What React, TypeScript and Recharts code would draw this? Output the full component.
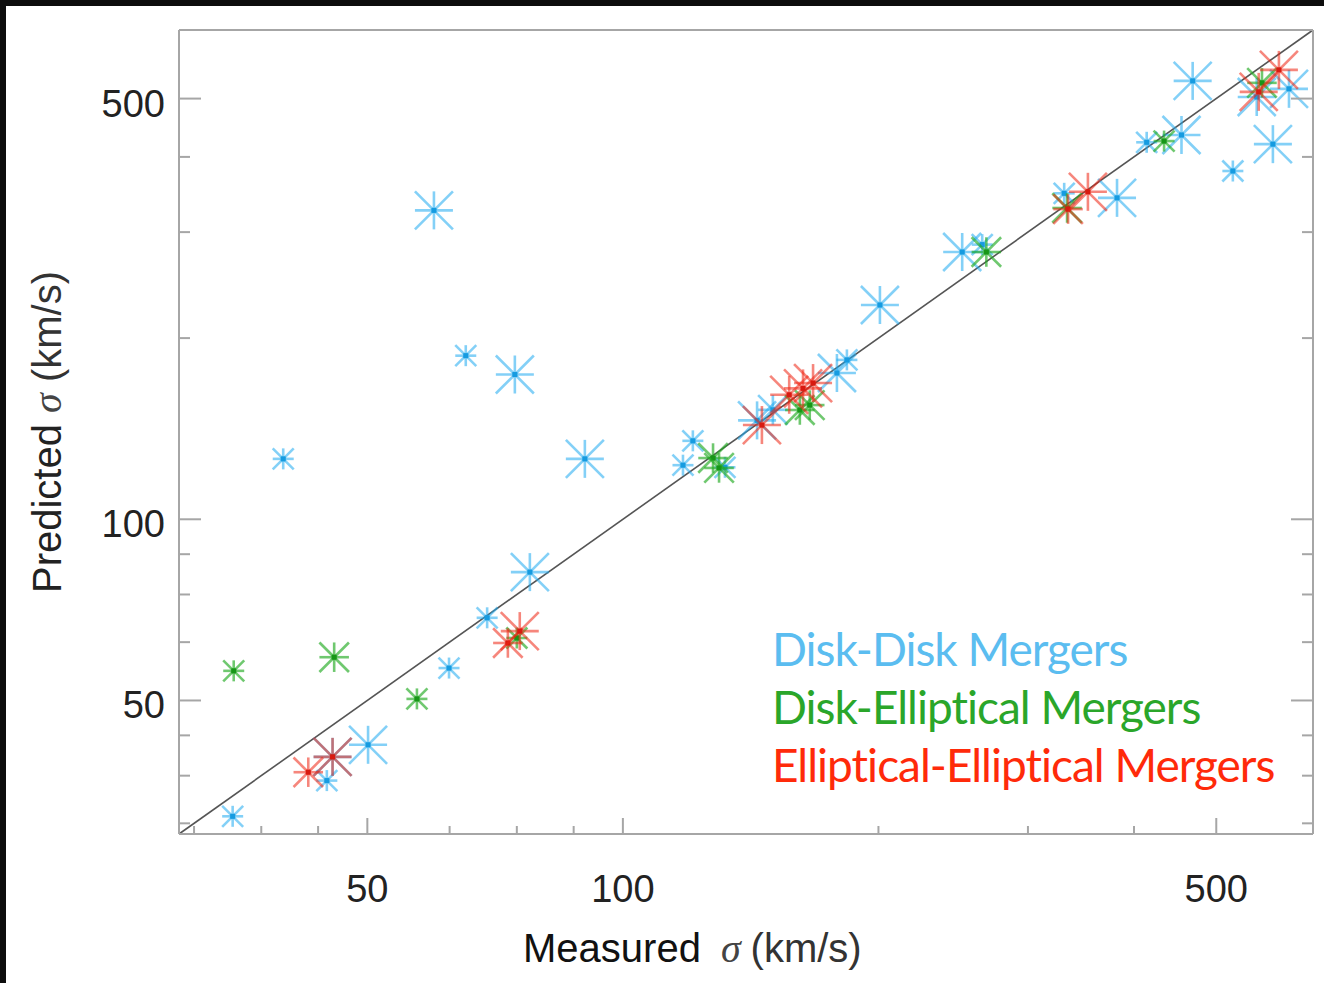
import React from 'react';
import { ScatterChart, Scatter, XAxis, YAxis, ZAxis, ReferenceLine, Legend } from 'recharts';

// ---------- data ----------
const AXIS_DOMAIN: [number, number] = [30, 650];
const majorTicks = [50, 100, 500];
const minorTicks = [31.25, 37.5, 43.75, 62.5, 75, 87.5, 200, 300, 400];
const allTicks = [...minorTicks, ...majorTicks].sort((a, b) => a - b);

// x = measured sigma, y = predicted sigma, z = marker size class (1 small, 2 medium, 3 large)
const diskDisk = [
  { x: 59.9, y: 326, z: 3 }, { x: 65.3, y: 187, z: 1 }, { x: 74.6, y: 174, z: 3 },
  { x: 39.8, y: 126, z: 1 }, { x: 90.2, y: 126, z: 3 }, { x: 77.7, y: 81.7, z: 3 },
  { x: 69.2, y: 68.6, z: 1 }, { x: 62.4, y: 56.6, z: 1 }, { x: 50.1, y: 42.2, z: 3 },
  { x: 44.8, y: 36.8, z: 1 }, { x: 34.7, y: 32.1, z: 1 }, { x: 45.5, y: 40.3, z: 3 },
  { x: 117.7, y: 123, z: 1 }, { x: 120.9, y: 135, z: 1 }, { x: 131.9, y: 122, z: 1 },
  { x: 143.9, y: 146, z: 3 }, { x: 150.2, y: 152, z: 2 }, { x: 178.7, y: 175, z: 3 },
  { x: 183.6, y: 184, z: 1 }, { x: 200.8, y: 227, z: 3 }, { x: 251, y: 278, z: 3 },
  { x: 265, y: 286, z: 1 }, { x: 331, y: 348, z: 1 }, { x: 382, y: 342, z: 3 },
  { x: 414, y: 423, z: 1 }, { x: 455, y: 435, z: 3 }, { x: 469, y: 535, z: 3 },
  { x: 523, y: 379, z: 1 }, { x: 558, y: 503, z: 3 }, { x: 609, y: 519, z: 3 },
  { x: 583, y: 420, z: 3 },
];
const diskElliptical = [
  { x: 34.8, y: 56.0, z: 1 }, { x: 45.7, y: 59.0, z: 2 }, { x: 57.2, y: 50.3, z: 1 },
  { x: 75.0, y: 63.5, z: 1 }, { x: 127.7, y: 126.4, z: 2 }, { x: 129.8, y: 121.7, z: 2 },
  { x: 161.6, y: 151.9, z: 2 }, { x: 166, y: 154.8, z: 2 }, { x: 268, y: 278, z: 2 },
  { x: 333.6, y: 329, z: 2 }, { x: 434, y: 425, z: 1 }, { x: 566, y: 531, z: 2 },
];
const ellipticalElliptical = [
  { x: 42.6, y: 38.0, z: 2 }, { x: 45.5, y: 40.3, z: 3 }, { x: 73.2, y: 62.3, z: 2 },
  { x: 75.6, y: 65.2, z: 3 }, { x: 145.8, y: 143.4, z: 3 }, { x: 157, y: 161, z: 3 },
  { x: 163, y: 165, z: 3 }, { x: 167.5, y: 168.4, z: 3 }, { x: 334.5, y: 327.6, z: 2 },
  { x: 353, y: 350, z: 3 }, { x: 561, y: 513, z: 3 }, { x: 592.6, y: 558, z: 3 },
];
const seriesNames = ['Disk-Disk Mergers', 'Disk-Elliptical Mergers', 'Elliptical-Elliptical Mergers'];

// ---------- styles ----------
const FRAME = '#a6a6a6';
const TICK_FONT = 'Liberation Sans, Arial, Helvetica, sans-serif';
const LEGEND_COLORS = ['#5bbdf0', '#2aa62a', '#ff2a0a'];

function makeStar(color: string, dot: string, opacity: number) {
  return (props: any) => {
    const { cx, cy } = props;
    if (cx == null || cy == null) return <g />;
    const s = props.size ?? props.width ?? 20;
    const r = s / 2;
    return (
      <g>
        <g stroke={color} strokeOpacity={opacity} strokeWidth={2.6}>
          <line x1={cx - r} y1={cy} x2={cx + r} y2={cy} />
          <line x1={cx} y1={cy - r} x2={cx} y2={cy + r} />
          <line x1={cx - r} y1={cy - r} x2={cx + r} y2={cy + r} />
          <line x1={cx - r} y1={cy + r} x2={cx + r} y2={cy - r} />
        </g>
        <rect x={cx - 2.5} y={cy - 2.5} width={5} height={5} fill={dot} />
      </g>
    );
  };
}

const isMajor = (v: number) => majorTicks.includes(v);

const BottomTick = (props: any) => {
  const { x, y, payload } = props;
  const v = payload.value;
  const m = isMajor(v);
  return (
    <g>
      <line x1={x} x2={x} y1={y} y2={y - (m ? 16 : 8)} stroke={FRAME} strokeWidth={2} />
      {m && (
        <text x={x} y={y + 68} textAnchor="middle" fontFamily={TICK_FONT} fontSize={38} fill="#222">
          {v}
        </text>
      )}
    </g>
  );
};
const TopTick = (props: any) => {
  const { x, y, payload } = props;
  const m = isMajor(payload.value);
  return <line x1={x} x2={x} y1={y} y2={y + (m ? 16 : 8)} stroke={FRAME} strokeWidth={2} />;
};
const LeftTick = (props: any) => {
  const { x, y, payload } = props;
  const v = payload.value;
  const m = isMajor(v);
  return (
    <g>
      <line x1={x} x2={x + (m ? 22 : 11)} y1={y} y2={y} stroke={FRAME} strokeWidth={2} />
      {m && (
        <text x={x - 14} y={y + 18} textAnchor="end" fontFamily={TICK_FONT} fontSize={38} fill="#222">
          {v}
        </text>
      )}
    </g>
  );
};
const RightTick = (props: any) => {
  const { x, y, payload } = props;
  const m = isMajor(payload.value);
  return <line x1={x} x2={x - (m ? 22 : 11)} y1={y} y2={y} stroke={FRAME} strokeWidth={2} />;
};

const XTitle = (props: any) => {
  const vb = props.viewBox || { x: 173, y: 828, width: 1134, height: 149 };
  return (
    <text x={vb.x + 344} y={vb.y + 128} fontFamily={TICK_FONT} fontSize={40} textAnchor="start">
      <tspan fill="#111">Measured</tspan>
      <tspan dx={20} fill="#444" fontFamily="Liberation Serif, serif" fontStyle="italic">σ</tspan>
      <tspan dx={10} fill="#333">(km/s)</tspan>
    </text>
  );
};
const YTitle = (props: any) => {
  const vb = props.viewBox || { x: 0, y: 24, width: 173, height: 804 };
  const cx = vb.x + 55;
  const cy = vb.y + vb.height / 2;
  return (
    <text x={cx} y={cy} transform={`rotate(-90, ${cx}, ${cy})`} fontFamily={TICK_FONT} fontSize={40} textAnchor="middle">
      <tspan fill="#222">Predicted </tspan>
      <tspan fill="#444" fontFamily="Liberation Serif, serif" fontStyle="italic">σ</tspan>
      <tspan fill="#333"> (km/s)</tspan>
    </text>
  );
};

const renderLegend = (props: any) => {
  const payload = props.payload || [];
  return (
    <div style={{ fontFamily: 'Lato, sans-serif', fontSize: 46, lineHeight: '58px', letterSpacing: '-1px' }}>
      {payload.map((e: any, i: number) => (
        <div key={i} style={{ color: e.color, whiteSpace: 'nowrap' }}>{e.value}</div>
      ))}
    </div>
  );
};

export default function App() {
  return (
    <div style={{ position: 'absolute', left: 0, top: 0, width: 1324, height: 983, background: '#0d0d0d' }}>
      <div style={{ position: 'absolute', left: 6, top: 6, width: 1318, height: 977, background: '#fff' }}>
        <ScatterChart width={1318} height={977} margin={{ top: 23, right: 10, left: 0, bottom: 0 }}>
          <XAxis
            xAxisId="x"
            dataKey="x"
            type="number"
            scale="log"
            domain={AXIS_DOMAIN}
            allowDataOverflow
            ticks={allTicks}
            interval={0}
            tickSize={0}
            tickMargin={0}
            tickLine={false}
            tick={<BottomTick />}
            height={149}
            axisLine={{ stroke: FRAME, strokeWidth: 2 }}
            label={{ content: XTitle }}
          />
          <XAxis
            xAxisId="xt"
            orientation="top"
            type="number"
            scale="log"
            domain={AXIS_DOMAIN}
            allowDataOverflow
            ticks={allTicks}
            interval={0}
            tickSize={0}
            tickMargin={0}
            tickLine={false}
            tick={<TopTick />}
            height={1}
            axisLine={{ stroke: FRAME, strokeWidth: 2 }}
          />
          <YAxis
            yAxisId="y"
            dataKey="y"
            type="number"
            scale="log"
            domain={AXIS_DOMAIN}
            allowDataOverflow
            ticks={allTicks}
            interval={0}
            tickSize={0}
            tickMargin={0}
            tickLine={false}
            tick={<LeftTick />}
            width={173}
            axisLine={{ stroke: FRAME, strokeWidth: 2 }}
            label={{ content: YTitle }}
          />
          <YAxis
            yAxisId="yr"
            orientation="right"
            type="number"
            scale="log"
            domain={AXIS_DOMAIN}
            allowDataOverflow
            ticks={allTicks}
            interval={0}
            tickSize={0}
            tickMargin={0}
            tickLine={false}
            tick={<RightTick />}
            width={1}
            axisLine={{ stroke: FRAME, strokeWidth: 2 }}
          />
          <ZAxis dataKey="z" type="number" domain={[1, 3]} range={[21, 38]} />
          <ReferenceLine
            xAxisId="x"
            yAxisId="y"
            segment={[{ x: AXIS_DOMAIN[0], y: AXIS_DOMAIN[0] }, { x: AXIS_DOMAIN[1], y: AXIS_DOMAIN[1] }]}
            stroke="#555"
            strokeWidth={1.6}
            ifOverflow="visible"
          />
          <Scatter
            name={seriesNames[0]}
            data={diskDisk}
            xAxisId="x"
            yAxisId="y"
            fill={LEGEND_COLORS[0]}
            shape={makeStar('#1eaaf0', '#169be0', 0.55)}
            isAnimationActive={false}
          />
          <Scatter
            name={seriesNames[1]}
            data={diskElliptical}
            xAxisId="x"
            yAxisId="y"
            fill={LEGEND_COLORS[1]}
            shape={makeStar('#22aa22', '#179617', 0.65)}
            isAnimationActive={false}
          />
          <Scatter
            name={seriesNames[2]}
            data={ellipticalElliptical}
            xAxisId="x"
            yAxisId="y"
            fill={LEGEND_COLORS[2]}
            shape={makeStar('#ee2211', '#d81a10', 0.55)}
            isAnimationActive={false}
          />
          <Legend
            layout="vertical"
            align="center"
            verticalAlign="middle"
            content={renderLegend}
            wrapperStyle={{ left: 766, top: 614, width: 'auto', height: 'auto' }}
          />
        </ScatterChart>
      </div>
    </div>
  );
}
